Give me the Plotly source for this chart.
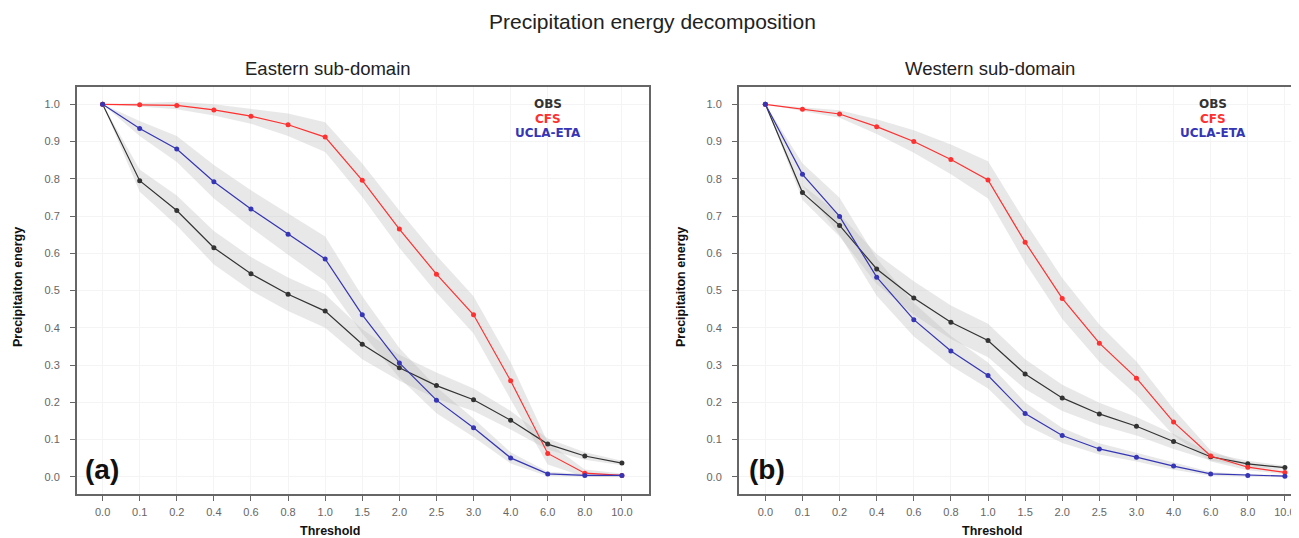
import plotly.graph_objects as go

thresholds = ["0.0", "0.1", "0.2", "0.4", "0.6", "0.8", "1.0", "1.5", "2.0", "2.5", "3.0", "4.0", "6.0", "8.0", "10.0"]

# Eastern sub-domain
east_obs = [1.0, 0.795, 0.715, 0.615, 0.545, 0.49, 0.445, 0.356, 0.293, 0.245, 0.207, 0.152, 0.088, 0.056, 0.037]
east_cfs = [1.0, 0.999, 0.997, 0.985, 0.968, 0.945, 0.912, 0.796, 0.665, 0.544, 0.435, 0.258, 0.063, 0.010, 0.004]
east_ucla = [1.0, 0.935, 0.880, 0.792, 0.719, 0.651, 0.585, 0.435, 0.306, 0.206, 0.132, 0.051, 0.008, 0.004, 0.004]
east_obs_spread = [0.0, 0.03, 0.04, 0.045, 0.045, 0.045, 0.045, 0.04, 0.035, 0.035, 0.03, 0.025, 0.015, 0.01, 0.006]
east_cfs_spread = [0.0, 0.005, 0.01, 0.015, 0.02, 0.03, 0.04, 0.045, 0.05, 0.05, 0.05, 0.05, 0.03, 0.01, 0.005]
east_ucla_spread = [0.0, 0.02, 0.035, 0.045, 0.05, 0.055, 0.06, 0.05, 0.04, 0.035, 0.025, 0.015, 0.006, 0.004, 0.004]

# Western sub-domain
west_obs = [1.0, 0.763, 0.675, 0.558, 0.480, 0.415, 0.366, 0.276, 0.212, 0.169, 0.136, 0.095, 0.054, 0.035, 0.025]
west_cfs = [1.0, 0.987, 0.974, 0.940, 0.900, 0.852, 0.797, 0.630, 0.479, 0.359, 0.265, 0.147, 0.056, 0.026, 0.012]
west_ucla = [1.0, 0.812, 0.699, 0.536, 0.422, 0.338, 0.272, 0.170, 0.111, 0.075, 0.053, 0.029, 0.008, 0.004, 0.002]
west_obs_spread = [0.0, 0.02, 0.03, 0.04, 0.045, 0.045, 0.045, 0.04, 0.035, 0.03, 0.025, 0.02, 0.01, 0.008, 0.005]
west_cfs_spread = [0.0, 0.005, 0.01, 0.02, 0.03, 0.04, 0.05, 0.055, 0.055, 0.05, 0.045, 0.035, 0.015, 0.008, 0.005]
west_ucla_spread = [0.0, 0.03, 0.05, 0.05, 0.045, 0.04, 0.035, 0.03, 0.02, 0.015, 0.012, 0.01, 0.005, 0.003, 0.003]

series_names = ["OBS", "CFS", "UCLA-ETA"]
series_colors = ["#333333", "#ff3030", "#3535b5"]

OFF = 8  # page body margin
W, H = 1299 - OFF, 538 - OFF
def px(x):
    return (x - OFF) / W
def py(y):
    return 1 - (y - OFF) / H

fig = go.Figure()
xi = list(range(len(thresholds)))

panels = [
    ("x", "y", [east_obs, east_cfs, east_ucla], [east_obs_spread, east_cfs_spread, east_ucla_spread]),
    ("x2", "y2", [west_obs, west_cfs, west_ucla], [west_obs_spread, west_cfs_spread, west_ucla_spread]),
]

for xa, ya, vals, spreads in panels:
    for v, s in zip(vals, spreads):
        upper = [a + b for a, b in zip(v, s)]
        lower = [a - b for a, b in zip(v, s)]
        fig.add_trace(go.Scatter(
            x=xi + xi[::-1], y=upper + lower[::-1], xaxis=xa, yaxis=ya,
            fill="toself", fillcolor="rgba(190,190,190,0.35)",
            line=dict(width=0), mode="lines", hoverinfo="skip", showlegend=False))
    for v, name, col in zip(vals, series_names, series_colors):
        fig.add_trace(go.Scatter(
            x=xi, y=v, xaxis=xa, yaxis=ya, mode="lines+markers", name=name,
            line=dict(color=col, width=1.2), marker=dict(color=col, size=5),
            showlegend=False))

axis_common = dict(showline=True, linecolor="#666666", linewidth=2, ticks="outside",
                   ticklen=5, tickcolor="#666666", tickwidth=1,
                   tickfont=dict(family="Liberation Sans, Arial", size=11, color="#666666"),
                   showgrid=True, gridcolor="#f4f4f4", gridwidth=1, zeroline=False)

yr = [-0.0459, 1.0472]
ytv = [i / 10 for i in range(11)]
ytt = ["%.1f" % t for t in ytv]

fig.update_layout(
    width=W, height=H, margin=dict(l=0, r=0, t=0, b=0),
    plot_bgcolor="white", paper_bgcolor="white", showlegend=False,
    xaxis=dict(domain=[px(77), px(649)], range=[-0.69, 14.73], tickvals=xi, ticktext=thresholds,
               mirror=True, anchor="y", ticklabelstandoff=2, **axis_common),
    yaxis=dict(domain=[py(494), py(86.7)], range=yr, tickvals=ytv, ticktext=ytt, mirror=True,
               anchor="x", ticklabelstandoff=8, **axis_common),
    xaxis2=dict(domain=[px(739), 1.0], range=[-0.71, 14.38], tickvals=xi, ticktext=thresholds,
                mirror=True, anchor="y2", ticklabelstandoff=2, **axis_common),
    yaxis2=dict(domain=[py(494), py(86.7)], range=yr, tickvals=ytv, ticktext=ytt, mirror=False,
                anchor="x2", ticklabelstandoff=8, **axis_common),
)

ann = []
def A(x, y, text, size, color="#222222", family="Liberation Sans, Arial", angle=0, bold=False):
    if bold:
        text = "<b>" + text + "</b>"
    ann.append(dict(x=px(x), y=py(y), xref="paper", yref="paper", text=text, showarrow=False,
                    font=dict(size=size, color=color, family=family), textangle=angle,
                    xanchor="center", yanchor="middle", borderpad=0))

A(652, 22, "Precipitation energy decomposition", 21)
A(328, 69, "Eastern sub-domain", 18.5)
A(990, 69, "Western sub-domain", 18.5)
narrow = "Liberation Sans Narrow, Arial Narrow, Liberation Sans"
A(330, 531, "Threshold", 12.5, color="#111111", family=narrow, bold=True)
A(992, 531, "Threshold", 12.5, color="#111111", family=narrow, bold=True)
A(18, 287, "Precipitaiton energy", 12.5, color="#111111", family=narrow, angle=-90, bold=True)
A(681, 287, "Precipitaiton energy", 12.5, color="#111111", family=narrow, angle=-90, bold=True)
for cx in (548, 1213):
    for i, (name, col) in enumerate(zip(series_names, series_colors)):
        A(cx, 104 + i * 14.5, name, 12, color=col, family="DejaVu Sans", bold=True)
A(102, 469, "(a)", 28, color="#111111", bold=True)
A(767, 469, "(b)", 28, color="#111111", bold=True)
fig.update_layout(annotations=ann)

fig.write_html("out.html")
